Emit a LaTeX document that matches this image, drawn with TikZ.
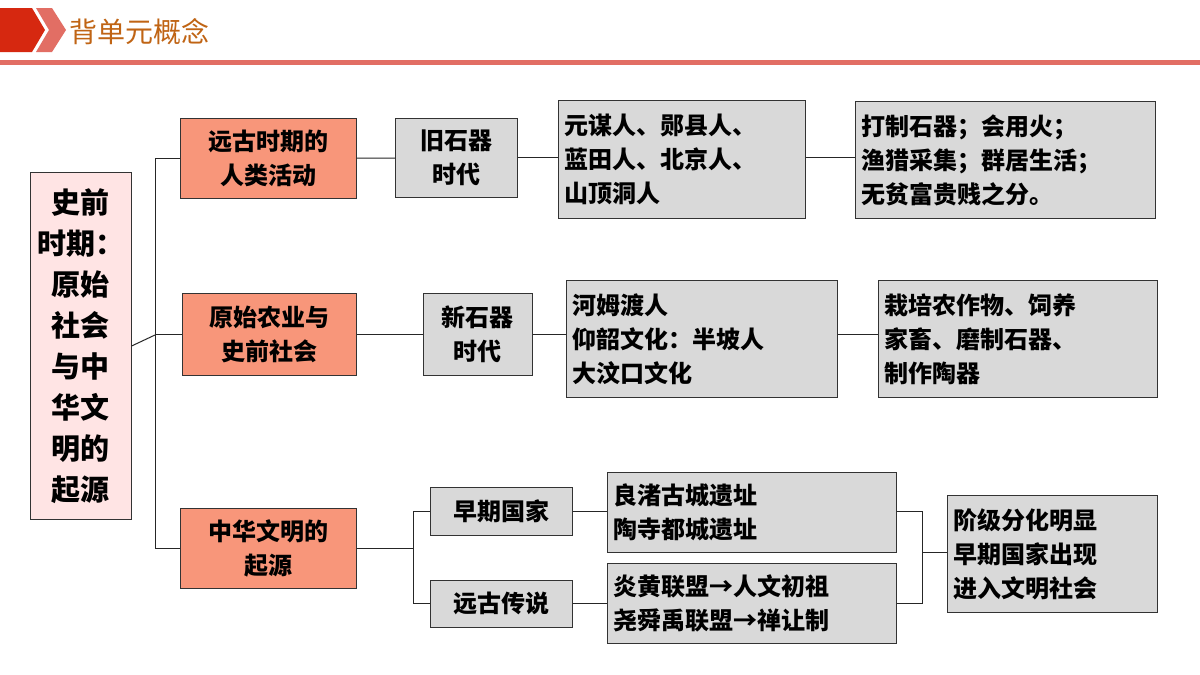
\documentclass[tikz,border=0pt]{standalone}
\usepackage{fontspec}
\setmainfont{Noto Sans CJK SC}
\usetikzlibrary{positioning}
\definecolor{rootpink}{RGB}{255,228,228}
\definecolor{salmon}{RGB}{248,150,122}
\definecolor{boxgray}{RGB}{217,217,217}
\definecolor{titlebrown}{RGB}{192,100,20}
\definecolor{barred}{RGB}{226,110,100}
\definecolor{chevdark}{RGB}{214,40,16}
\tikzset{
  box/.style={draw=black!80, line width=0.8pt, anchor=north west, inner sep=6pt,
    align=left, font=\bfseries\fontsize{24}{34}\selectfont},
  rootbox/.style={box, fill=rootpink, align=center, font=\bfseries\fontsize{29}{41}\selectfont},
  catbox/.style={box, fill=salmon, align=center},
  infobox/.style={box, fill=boxgray},
  link/.style={line width=1pt, black!85}
}
\begin{document}
\begin{tikzpicture}[x=1pt,y=-1pt]
  \useasboundingbox (0,0) rectangle (1200,675);
  \fill[white] (0,0) rectangle (1200,675);
  % title bar
  \fill[chevdark] (0,8) -- (32,8) -- (45,30) -- (32,52) -- (0,52) -- cycle;
  \fill[barred] (36,8) -- (52,8) -- (66,30) -- (52,52) -- (36,52) -- (49,30) -- cycle;
  \node[anchor=west, text=titlebrown, font=\fontsize{28}{30}\selectfont] (title) at (66,32) {背单元概念};
  \fill[barred] (0,60) rectangle (1200,65);

  % boxes
  \node[rootbox, minimum width=101, minimum height=347, text width=89] (root) at (30,172)
    {史前\\时期：\\原始\\社会\\与中\\华文\\明的\\起源};
  \node[catbox, minimum width=176, minimum height=80, text width=164] (huntA) at (180,118) {远古时期的\\人类活动};
  \node[catbox, minimum width=174, minimum height=82, text width=162] (farmB) at (182,293) {原始农业与\\史前社会};
  \node[catbox, minimum width=176, minimum height=80, text width=164] (civC) at (180,508) {中华文明的\\起源};

  \node[infobox, align=center, minimum width=122, minimum height=79, text width=110] (oldStone) at (395,118) {旧石器\\时代};
  \node[infobox, align=center, minimum width=109, minimum height=82, text width=97] (newStone) at (423,293) {新石器\\时代};
  \node[infobox, align=center, minimum width=142, minimum height=48, text width=130] (earlyState) at (430,487) {早期国家};
  \node[infobox, align=center, minimum width=142, minimum height=47, text width=130] (legend) at (430,580) {远古传说};

  \node[infobox, minimum width=247, minimum height=118, text width=235] (oldMen) at (558,100) {元谋人、郧县人、\\蓝田人、北京人、\\山顶洞人};
  \node[infobox, minimum width=271, minimum height=117, text width=259] (newSites) at (566,280) {河姆渡人\\仰韶文化：半坡人\\大汶口文化};
  \node[infobox, minimum width=289, minimum height=80, text width=277] (cities) at (607,472) {良渚古城遗址\\陶寺都城遗址};
  \node[infobox, minimum width=289, minimum height=80, text width=277] (allies) at (607,563) {炎黄联盟→人文初祖\\尧舜禹联盟→禅让制};

  \node[infobox, minimum width=300, minimum height=117, text width=288] (oldLife) at (855,101) {打制石器；会用火；\\渔猎采集；群居生活；\\无贫富贵贱之分。};
  \node[infobox, minimum width=279, minimum height=117, text width=267] (newLife) at (878,280) {栽培农作物、饲养\\家畜、磨制石器、\\制作陶器};
  \node[infobox, minimum width=210, minimum height=117, text width=198] (result) at (947,495) {阶级分化明显\\早期国家出现\\进入文明社会};

  % connectors
  \coordinate (rootJ) at (155,335);
  \coordinate (civJ) at (413,548);
  \coordinate (resJ) at (922,552);
  \draw[link] (root.east) -- (rootJ);
  \draw[link] (rootJ) |- (huntA.west);
  \draw[link] (rootJ) |- (civC.west);
  \draw[link] (rootJ) -- (rootJ |- farmB.west) -- (farmB.west);
  \draw[link] (huntA) -- (oldStone);
  \draw[link] (oldStone.east) -- (oldMen.west |- oldStone.east);
  \draw[link] (oldMen.east |- oldStone.east) -- (oldLife.west |- oldStone.east);
  \draw[link] (farmB) -- (newStone);
  \draw[link] (newStone) -- (newSites.west |- newStone.east);
  \draw[link] (newSites.east |- newStone.east) -- (newLife.west |- newStone.east);
  \draw[link] (civC.east |- civJ) -- (civJ);
  \draw[link] (civJ) |- (earlyState.west);
  \draw[link] (civJ) |- (legend.west);
  \draw[link] (earlyState.east) -- (cities.west |- earlyState.east);
  \draw[link] (legend.east) -- (allies.west |- legend.east);
  \draw[link] (cities.east |- earlyState.east) -| (resJ);
  \draw[link] (allies.east |- legend.east) -| (resJ);
  \draw[link] (resJ) -- (result.west |- resJ);
\end{tikzpicture}
\end{document}
